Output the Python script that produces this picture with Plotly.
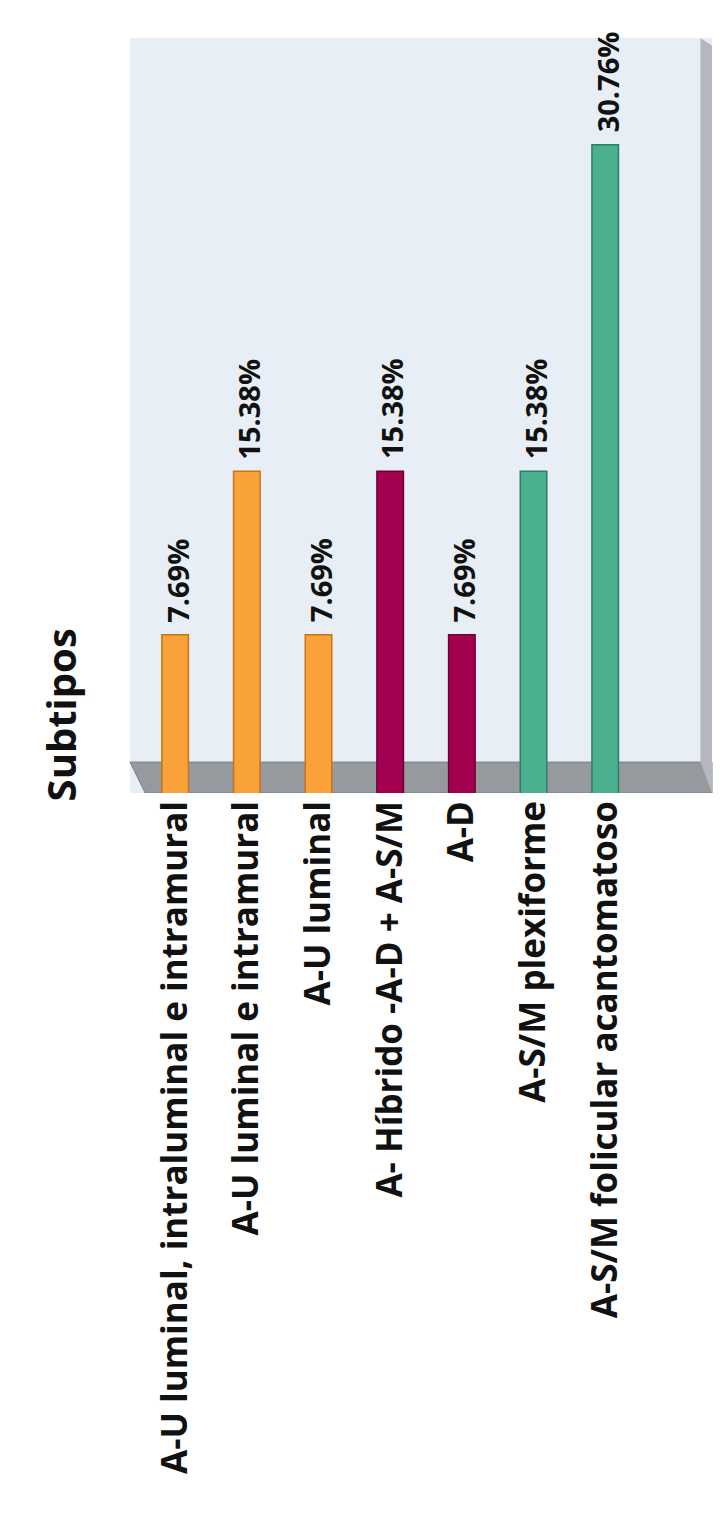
import plotly.graph_objects as go

categories = [
    "A-U luminal, intraluminal e intramural",
    "A-U luminal e intramural",
    "A-U luminal",
    "A- Híbrido -A-D + A-S/M",
    "A-D",
    "A-S/M plexiforme",
    "A-S/M folicular acantomatoso",
]
values = [7.69, 15.38, 7.69, 15.38, 7.69, 15.38, 30.76]
labels = ["7.69%", "15.38%", "7.69%", "15.38%", "7.69%", "15.38%", "30.76%"]
colors = ["#F9A23A", "#F9A23A", "#F9A23A", "#A3004F", "#A3004F", "#4BB090", "#4BB090"]
edge_colors = ["#C77416", "#C77416", "#C77416", "#6E0033", "#6E0033", "#2E7D65", "#2E7D65"]

FONT = "Open Sans"
YMAX = 35.78
YMIN = 0.235
FLOOR = 1.69

fig = go.Figure()
fig.add_trace(go.Bar(
    x=list(range(len(categories))),
    y=values,
    width=0.37,
    marker=dict(color=colors, line=dict(color=edge_colors, width=1.5)),
    hoverinfo="skip",
))

for i, (v, t) in enumerate(zip(values, labels)):
    fig.add_annotation(
        x=i, y=v, xref="x", yref="y", text=t, showarrow=False,
        textangle=-90, xanchor="center", yanchor="bottom", yshift=10, xshift=2,
        font=dict(family=FONT, size=29, color="#111111", weight="bold"),
    )

# floor and right wall (decoration)
fig.add_shape(type="path", xref="paper", yref="y",
              path=f"M 0,{FLOOR} L 1,{FLOOR} L 1,{YMIN} L 0.026,{YMIN} Z",
              fillcolor="#96999E", line=dict(color="#7d8086", width=1), layer="below")
fig.add_shape(type="path", xref="paper", yref="y",
              path=f"M 0.98,{YMAX} L 1,{YMAX - 0.35} L 1,{YMIN} L 0.98,{FLOOR} Z",
              fillcolor="#B4B8BE", line=dict(width=0), layer="below")

fig.add_annotation(
    text="Subtipos", xref="paper", yref="paper", x=-0.12, y=0.103,
    xanchor="center", yanchor="middle",
    textangle=-90, showarrow=False,
    font=dict(family=FONT, size=40, color="#111111", weight="bold"),
)

fig.update_layout(
    width=723, height=1518,
    margin=dict(l=130, r=11, t=38, b=725),
    paper_bgcolor="white",
    plot_bgcolor="#E8EEF5",
    showlegend=False,
)
fig.update_xaxes(
    range=[-0.63, 7.49],
    tickmode="array", tickvals=list(range(len(categories))), ticktext=categories,
    tickangle=-90, ticks="", showgrid=False, zeroline=False, showline=False,
    tickfont=dict(family=FONT, size=35, color="#111111", weight="bold"),
)
fig.update_yaxes(range=[YMIN, YMAX], visible=False, showgrid=False, zeroline=False)

fig.write_html("out.html")
